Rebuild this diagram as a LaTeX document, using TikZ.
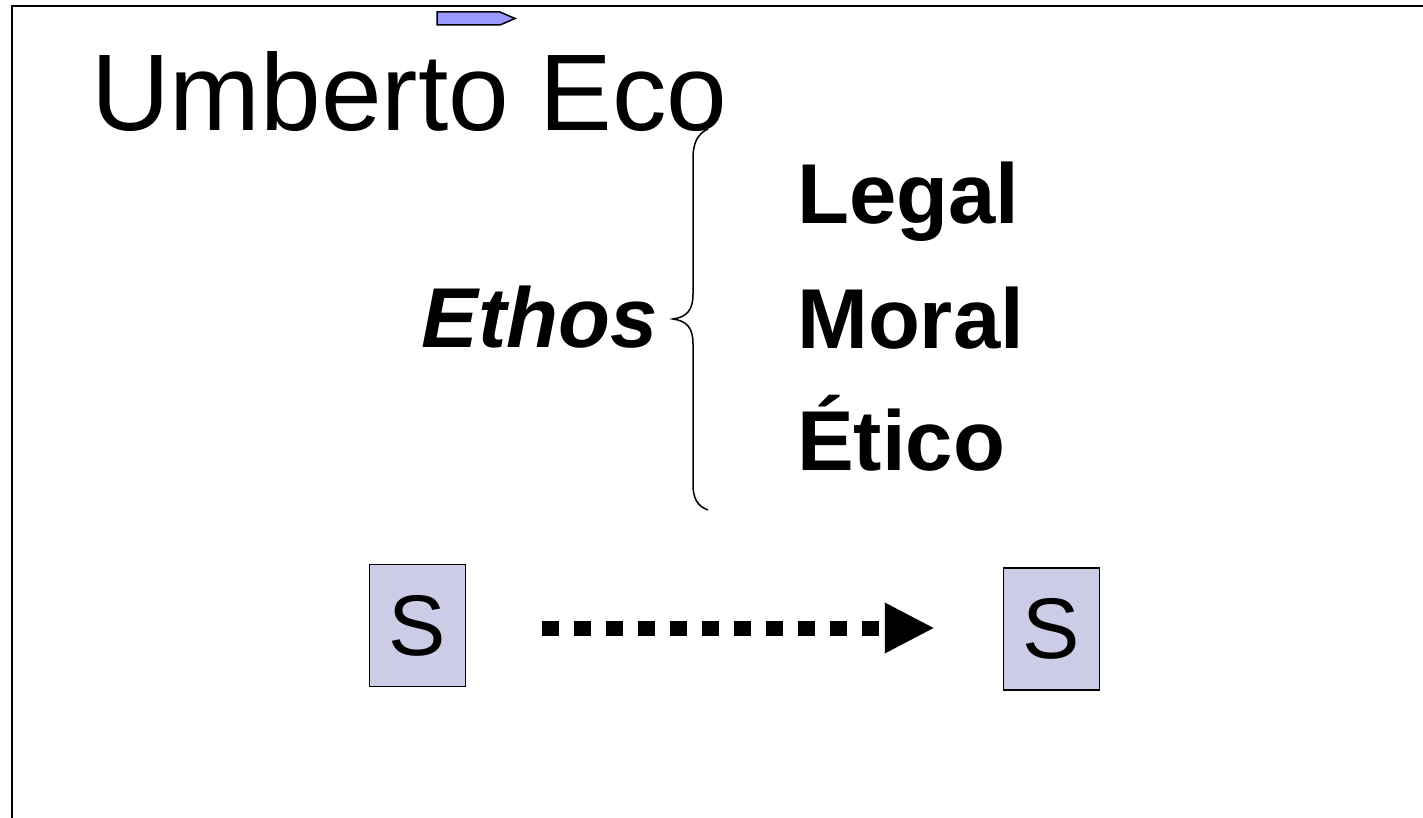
\documentclass[tikz,border=0pt]{standalone}
\usepackage{fontspec}
\setmainfont{Liberation Sans}
\usetikzlibrary{arrows.meta}
\definecolor{boxfill}{RGB}{204,204,230}
\definecolor{tagfill}{RGB}{153,153,255}
\tikzset{
  txt/.style={inner sep=0pt, anchor=base west, text=black},
  sbox/.style={draw=black, line width=1.5pt, fill=boxfill, minimum width=96pt, minimum height=122pt, inner sep=0pt, font=\fontsize{86}{96}\selectfont},
  frame/.style={line width=2pt, draw=black},
}
\begin{document}
\begin{tikzpicture}[x=1pt,y=-1pt]
\useasboundingbox (0,0) rectangle (1423,818);
% frame
\draw[frame] (1423,6) -- (12,6) -- (12,818);
% small tag
\draw[line width=1.5pt, fill=tagfill] (437,12) -- (500,12) -- (515,18.5) -- (500,25) -- (437,25) -- cycle;
% title
\node[txt, font=\fontsize{109}{120}\selectfont] (title) at (91,131) {Umberto Eco};
% ethos
\node[txt, anchor=base east, font=\fontsize{85}{96}\selectfont\bfseries\itshape] (ethos) at (658,347) {Ethos};
% brace
\draw[line width=1.5pt] (708,129) .. controls (697,134) and (693,144) .. (693,158)
  -- (693,294) .. controls (693,310) and (687,317) .. (673,319)
  .. controls (687,321) and (693,328) .. (693,344)
  -- (693,484) .. controls (693,498) and (697,506) .. (708,510);
% items
\node[txt, font=\fontsize{85}{96}\selectfont\bfseries] (legal) at (797,224) {Legal};
\node[txt, font=\fontsize{85}{96}\selectfont\bfseries] (moral) at (797,348) {Moral};
\node[txt, font=\fontsize{85}{96}\selectfont\bfseries] (etico) at (797,470) {Ético};
% S boxes
\node[sbox] (s1) at (417.5,625.5) {S};
\node[sbox] (s2) at (1051.5,629) {S};
\draw[line width=15pt, dash pattern=on 17pt off 15pt,
      -{Triangle[length=50pt, width=47pt]},
      shorten <=76pt, shorten >=68pt]
  (s1.east |- 0,628) -- (s2.west |- 0,628);
\end{tikzpicture}
\end{document}
